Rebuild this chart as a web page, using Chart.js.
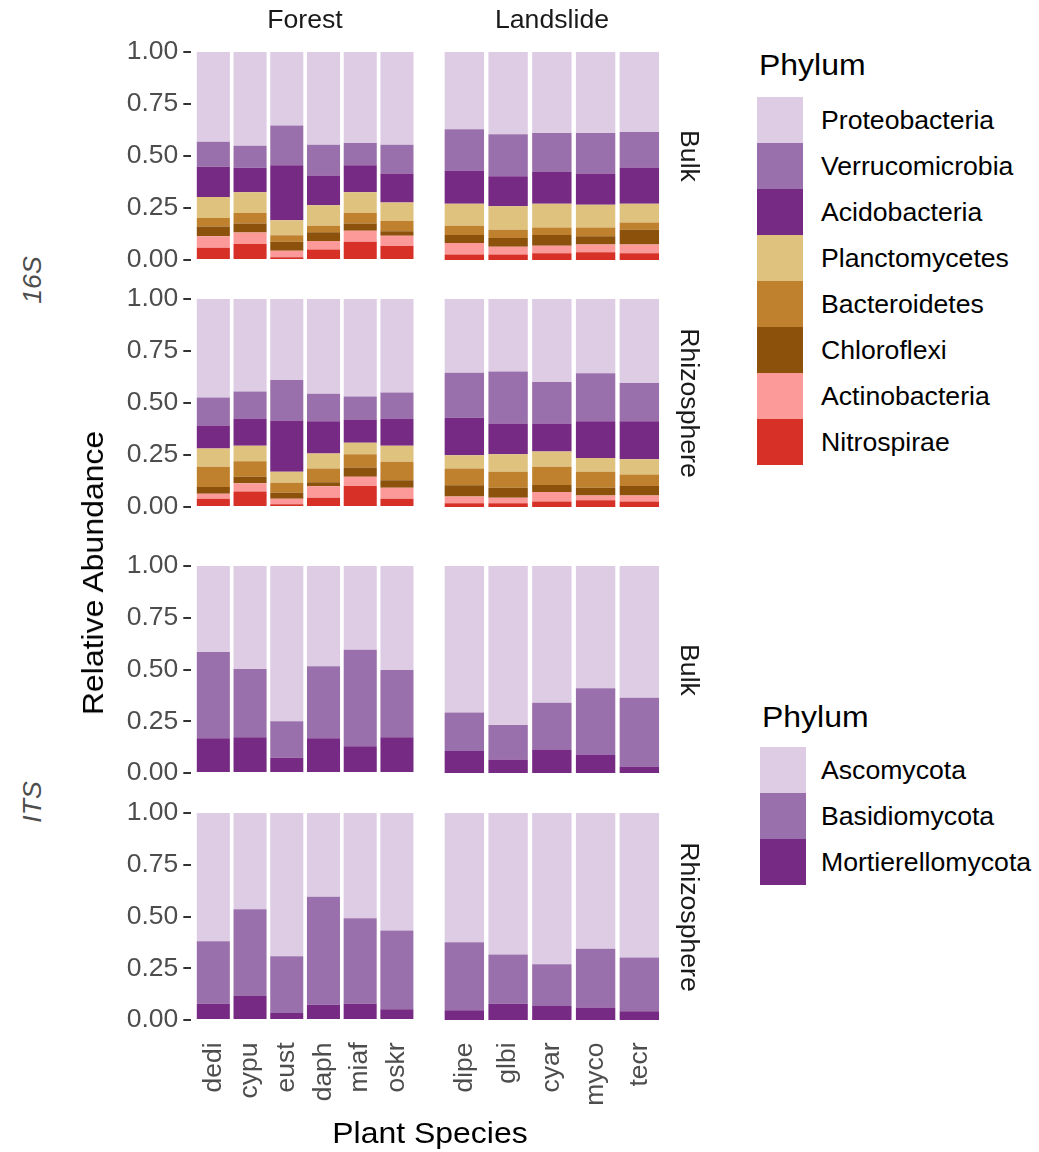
<!DOCTYPE html>
<html>
<head>
<meta charset="utf-8">
<title>Relative abundance by plant species</title>
<script src="https://cdn.jsdelivr.net/npm/chart.js@4.4.1/dist/chart.umd.min.js"></script>
<style>
  body { margin: 0; background: #fff; }
  #page { position: relative; width: 1039px; height: 1152px; overflow: hidden;
          font-family: 'Liberation Sans', Arial, sans-serif; }
  #page canvas { position: absolute; }
  .lbl { position: absolute; white-space: nowrap; line-height: 1; }
  .key { position: absolute; width: 46px; height: 46px; }
</style>
</head>
<body>
<div id="page"></div>
<script>
const FONT = "'Liberation Sans', Arial, sans-serif";
const STRETCH = 1.065;   // text runs a little wider than plain Arial

// x categories per habitat
const forestSpecies = ['dedi', 'cypu', 'eust', 'daph', 'miaf', 'oskr'];
const landslideSpecies = ['dipe', 'glbi', 'cyar', 'myco', 'tecr'];
const yTicks = [0, 0.25, 0.5, 0.75, 1];

// phyla, in legend order (top of the stack first)
const bacteriaPhyla = ['Proteobacteria', 'Verrucomicrobia', 'Acidobacteria', 'Planctomycetes',
                       'Bacteroidetes', 'Chloroflexi', 'Actinobacteria', 'Nitrospirae'];
const bacteriaColors = ['#DECBE4', '#9970AB', '#762A83', '#DFC27D',
                        '#BF812D', '#8C510A', '#FB9A99', '#D73027'];
const fungiPhyla = ['Ascomycota', 'Basidiomycota', 'Mortierellomycota'];
const fungiColors = ['#DECBE4', '#9970AB', '#762A83'];

// one row per phylum, one column per species
const bulk16sForest = [
  [0.432, 0.451, 0.353, 0.446, 0.437, 0.446],
  [0.120, 0.106, 0.191, 0.148, 0.107, 0.138],
  [0.145, 0.117, 0.265, 0.143, 0.130, 0.140],
  [0.101, 0.100, 0.072, 0.098, 0.100, 0.088],
  [0.041, 0.051, 0.031, 0.032, 0.051, 0.050],
  [0.047, 0.043, 0.043, 0.042, 0.034, 0.022],
  [0.055, 0.055, 0.032, 0.041, 0.053, 0.049],
  [0.059, 0.077, 0.013, 0.050, 0.088, 0.067]
];
const bulk16sLandslide = [
  [0.371, 0.395, 0.390, 0.390, 0.385],
  [0.199, 0.202, 0.185, 0.194, 0.170],
  [0.159, 0.145, 0.154, 0.150, 0.174],
  [0.106, 0.112, 0.115, 0.110, 0.091],
  [0.045, 0.040, 0.036, 0.042, 0.034],
  [0.038, 0.042, 0.051, 0.040, 0.072],
  [0.055, 0.037, 0.037, 0.037, 0.042],
  [0.027, 0.027, 0.032, 0.037, 0.032]
];
const rhizo16sForest = [
  [0.473, 0.445, 0.389, 0.455, 0.469, 0.450],
  [0.135, 0.129, 0.195, 0.133, 0.110, 0.124],
  [0.111, 0.132, 0.247, 0.155, 0.112, 0.132],
  [0.088, 0.074, 0.052, 0.072, 0.055, 0.077],
  [0.097, 0.074, 0.049, 0.066, 0.064, 0.088],
  [0.032, 0.032, 0.028, 0.019, 0.044, 0.037],
  [0.024, 0.040, 0.027, 0.055, 0.045, 0.052],
  [0.040, 0.074, 0.013, 0.045, 0.101, 0.040]
];
const rhizo16sLandslide = [
  [0.354, 0.349, 0.399, 0.357, 0.404],
  [0.217, 0.249, 0.199, 0.231, 0.184],
  [0.180, 0.148, 0.135, 0.177, 0.182],
  [0.064, 0.084, 0.074, 0.065, 0.074],
  [0.080, 0.078, 0.087, 0.077, 0.055],
  [0.055, 0.047, 0.034, 0.038, 0.046],
  [0.032, 0.027, 0.045, 0.023, 0.028],
  [0.018, 0.018, 0.027, 0.032, 0.027]
];
const bulkItsForest = [
  [0.415, 0.498, 0.750, 0.484, 0.405, 0.503],
  [0.417, 0.329, 0.176, 0.348, 0.466, 0.324],
  [0.168, 0.173, 0.074, 0.168, 0.129, 0.173]
];
const bulkItsLandslide = [
  [0.708, 0.768, 0.661, 0.590, 0.637],
  [0.186, 0.166, 0.228, 0.323, 0.331],
  [0.106, 0.066, 0.111, 0.087, 0.032]
];
const rhizoItsForest = [
  [0.619, 0.465, 0.692, 0.405, 0.508, 0.568],
  [0.302, 0.419, 0.274, 0.521, 0.413, 0.380],
  [0.079, 0.116, 0.034, 0.074, 0.079, 0.052]
];
const rhizoItsLandslide = [
  [0.624, 0.684, 0.731, 0.656, 0.698],
  [0.329, 0.237, 0.201, 0.284, 0.260],
  [0.047, 0.079, 0.068, 0.060, 0.042]
];

// panel plot areas on the page
const panelCols = [[191.3, 419], [438.1, 665.6]];
const panelRows = [[41.6, 270.4], [288.6, 517.4], [555.6, 783.4], [802.6, 1030.4]];

const page = document.getElementById('page');
const MARGIN = 24;
const X_AXIS_H = 80;

function makePanel(col, row, species, values, phyla, colors) {
  const [x0, x1] = panelCols[col];
  const [y0, y1] = panelRows[row];
  const showY = col === 0;
  const showX = row === panelRows.length - 1;

  const left = showY ? 100 : Math.floor(x0) - MARGIN;
  const top = Math.floor(y0) - MARGIN;
  const right = Math.ceil(x1) + MARGIN;
  const bottom = showX ? Math.ceil(y1 + X_AXIS_H) + 6 : Math.ceil(y1) + MARGIN;

  const cv = document.createElement('canvas');
  cv.width = right - left;
  cv.height = bottom - top;
  cv.style.left = left + 'px';
  cv.style.top = top + 'px';
  page.appendChild(cv);

  // Chart.js stacks the first dataset at the bottom, so reverse the legend order
  const datasets = phyla.map((p, k) => ({
    label: p,
    data: values[k].map((v, i) => ({ x: i, y: v })),
    backgroundColor: colors[k],
    borderWidth: 0,
    barPercentage: 0.9,
    categoryPercentage: 1
  })).reverse();

  new Chart(cv, {
    type: 'bar',
    data: { datasets },
    options: {
      responsive: false,
      animation: false,
      layout: {
        padding: {
          left: showY ? 0 : x0 - left,
          top: y0 - top,
          right: right - x1,
          bottom: showX ? bottom - y1 - X_AXIS_H : bottom - y1
        }
      },
      plugins: { legend: { display: false }, tooltip: { enabled: false } },
      scales: {
        x: {
          type: 'linear',
          stacked: true,
          offset: false,
          display: showX,
          min: -0.6,
          max: species.length - 0.4,
          afterBuildTicks: s => { s.ticks = species.map((_, i) => ({ value: i })); },
          afterFit: s => { if (showX) s.height = X_AXIS_H; },
          grid: { display: false, drawTicks: false },
          border: { display: false },
          ticks: {
            autoSkip: false, minRotation: 90, maxRotation: 90, padding: 12,
            color: '#4D4D4D', font: { size: 26.5, family: FONT },
            callback: v => species[v]
          }
        },
        y: {
          stacked: true,
          display: showY,
          min: -0.05,
          max: 1.05,
          afterBuildTicks: s => { s.ticks = yTicks.map(v => ({ value: v })); },
          afterFit: s => { if (showY) s.width = x0 - left; },
          grid: { drawOnChartArea: false, drawTicks: true, tickLength: 8, color: '#333333', lineWidth: 2 },
          border: { display: false },
          ticks: {
            padding: 5, color: '#4D4D4D', font: { size: 26.5, family: FONT },
            callback: v => v.toFixed(2)
          }
        }
      }
    }
  });
}

function addText(txt, cx, cy, size, color, rot, italic) {
  const d = document.createElement('div');
  d.className = 'lbl';
  d.textContent = txt;
  d.style.fontSize = size + 'px';
  d.style.color = color;
  if (italic) d.style.fontStyle = 'italic';
  d.style.left = cx + 'px';
  d.style.top = cy + 'px';
  d.style.transform = 'translate(-50%, -50%) rotate(' + (rot || 0) + 'deg) scaleX(' + STRETCH + ')';
  page.appendChild(d);
}

function addTextLeft(txt, x, cy, size, color) {
  const d = document.createElement('div');
  d.className = 'lbl';
  d.textContent = txt;
  d.style.fontSize = size + 'px';
  d.style.color = color;
  d.style.left = x + 'px';
  d.style.top = cy + 'px';
  d.style.transformOrigin = 'left center';
  d.style.transform = 'translateY(-50%) scaleX(' + STRETCH + ')';
  page.appendChild(d);
}

function addLegend(title, phyla, colors, keyX, keyY, titleY) {
  addTextLeft(title, keyX + 2, titleY, 30, '#000');
  phyla.forEach((p, k) => {
    const box = document.createElement('div');
    box.className = 'key';
    box.style.left = keyX + 'px';
    box.style.top = (keyY + k * 46) + 'px';
    box.style.background = colors[k];
    page.appendChild(box);
    addTextLeft(p, 821, keyY + k * 46 + 23, 25, '#000');
  });
}

// 16S rows
makePanel(0, 0, forestSpecies, bulk16sForest, bacteriaPhyla, bacteriaColors);
makePanel(1, 0, landslideSpecies, bulk16sLandslide, bacteriaPhyla, bacteriaColors);
makePanel(0, 1, forestSpecies, rhizo16sForest, bacteriaPhyla, bacteriaColors);
makePanel(1, 1, landslideSpecies, rhizo16sLandslide, bacteriaPhyla, bacteriaColors);
// ITS rows
makePanel(0, 2, forestSpecies, bulkItsForest, fungiPhyla, fungiColors);
makePanel(1, 2, landslideSpecies, bulkItsLandslide, fungiPhyla, fungiColors);
makePanel(0, 3, forestSpecies, rhizoItsForest, fungiPhyla, fungiColors);
makePanel(1, 3, landslideSpecies, rhizoItsLandslide, fungiPhyla, fungiColors);

// facet strips
addText('Forest', 305, 19, 25, '#1A1A1A');
addText('Landslide', 552, 19, 25, '#1A1A1A');
addText('Bulk', 689, 156, 25, '#1A1A1A', 90);
addText('Rhizosphere', 689, 403, 25, '#1A1A1A', 90);
addText('Bulk', 689, 669.5, 25, '#1A1A1A', 90);
addText('Rhizosphere', 689, 916.5, 25, '#1A1A1A', 90);

// marker labels and axis titles
addText('16S', 32, 280, 25, '#4D4D4D', -90, true);
addText('ITS', 32, 802, 25, '#4D4D4D', -90, true);
addText('Relative Abundance', 93, 573, 30, '#000', -90);
addText('Plant Species', 430, 1133, 30, '#000');

addLegend('Phylum', bacteriaPhyla, bacteriaColors, 757, 97, 65);
addLegend('Phylum', fungiPhyla, fungiColors, 760, 747, 717);
</script>
</body>
</html>
